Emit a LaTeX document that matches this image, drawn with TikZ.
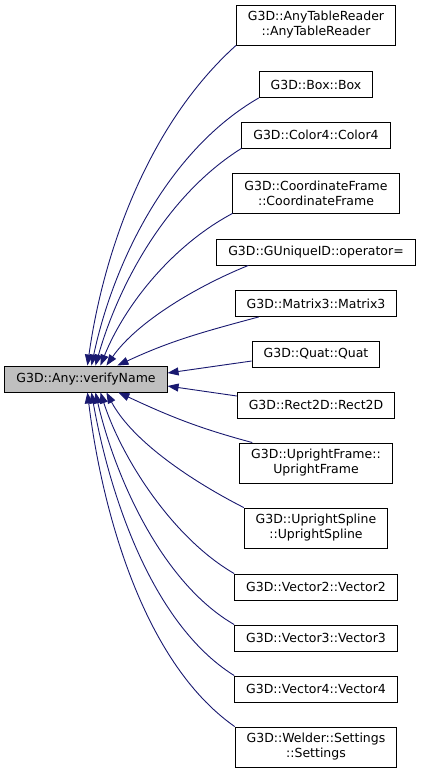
\documentclass[tikz,border=0pt]{standalone}
\usepackage{fontspec}
\setmainfont{DejaVu Sans}
\usetikzlibrary{arrows.meta}
\definecolor{callblue}{HTML}{191970}
\definecolor{selgray}{HTML}{BFBFBF}

\begin{document}
\begin{tikzpicture}[x=1pt,y=1pt,>={Triangle[length=11pt,width=8pt]},
    func/.style={draw=black,fill=white,line width=0.9pt,inner xsep=11.5pt,
                 inner ysep=0pt,minimum height=26pt,align=center,
                 font=\fontsize{12.5}{15}\selectfont},
    twoline/.style={func,minimum height=40pt},
    root/.style={func,fill=selgray},
    call/.style={callblue,line width=0.9pt,->}]
    \useasboundingbox (0,0) rectangle (421,-773);
    \node[root] (vn) at (86,-379) {G3D::Any::verifyName};
    \node[twoline] (atr) at (316,-25) {G3D::AnyTableReader\\::AnyTableReader};
    \node[func] (box) at (316,-84.5) {G3D::Box::Box};
    \node[func] (col) at (316,-135) {G3D::Color4::Color4};
    \node[twoline] (cfr) at (316,-193) {G3D::CoordinateFrame\\::CoordinateFrame};
    \node[func] (gid) at (316,-252) {G3D::GUniqueID::operator=};
    \node[func] (mat) at (316,-303.5) {G3D::Matrix3::Matrix3};
    \node[func] (quat) at (316,-354) {G3D::Quat::Quat};
    \node[func] (rect) at (316,-405) {G3D::Rect2D::Rect2D};
    \node[twoline] (ufr) at (316,-463) {G3D::UprightFrame::\\UprightFrame};
    \node[twoline] (usp) at (316,-528) {G3D::UprightSpline\\::UprightSpline};
    \node[func] (vtwo) at (316,-587) {G3D::Vector2::Vector2};
    \node[func] (vthree) at (316,-638) {G3D::Vector3::Vector3};
    \node[func] (vfour) at (316,-689) {G3D::Vector4::Vector4};
    \node[twoline] (weld) at (316,-747) {G3D::Welder::Settings\\::Settings};
    % callers above
    \draw[call] (atr.south west) to[out=222,in=82,looseness=0.85] ([xshift=83pt]vn.north west);
    \draw[call] (box.south west) to[out=210,in=78,looseness=0.85] ([xshift=87pt]vn.north west);
    \draw[call] (col.south west) to[out=212,in=74,looseness=0.85] ([xshift=91pt]vn.north west);
    \draw[call] (cfr.south west) to[out=208,in=68,looseness=0.85] ([xshift=96pt]vn.north west);
    \draw[call] ([xshift=32pt]gid.south west) to[out=202,in=55,looseness=0.8] ([xshift=102pt]vn.north west);
    \draw[call] ([xshift=24pt]mat.south west) to[out=195,in=25] ([xshift=113pt]vn.north west);
    \draw[call] ([yshift=-7pt]quat.west) -- ([yshift=6pt]vn.east);
    \draw[call] ([yshift=9pt]rect.west) -- ([yshift=-7pt]vn.east);
    % callers below
    \draw[call] ([xshift=13pt]ufr.north west) to[out=165,in=-25] ([xshift=114pt]vn.south west);
    \draw[call] (usp.north west) to[out=153,in=-62,looseness=0.8] ([xshift=102pt]vn.south west);
    \draw[call] (vtwo.north west) to[out=150,in=-72,looseness=0.8] ([xshift=96pt]vn.south west);
    \draw[call] (vthree.north west) to[out=150,in=-77,looseness=0.8] ([xshift=91pt]vn.south west);
    \draw[call] (vfour.north west) to[out=148,in=-80,looseness=0.8] ([xshift=87pt]vn.south west);
    \draw[call] (weld.north west) to[out=145,in=-83,looseness=0.8] ([xshift=83pt]vn.south west);
\end{tikzpicture}
\end{document}
